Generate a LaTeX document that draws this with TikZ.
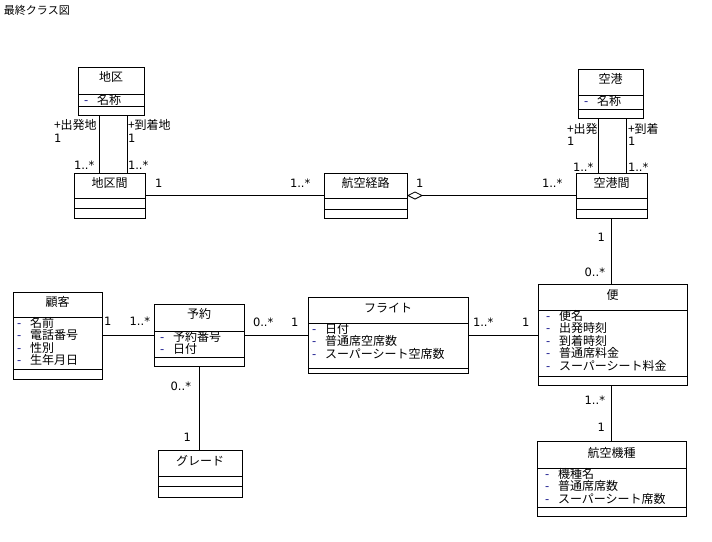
\documentclass[tikz,border=0pt]{standalone}
\usepackage{fontspec}
\setmainfont{Noto Sans CJK JP}
\newfontfamily\multfont{DejaVu Sans}
\usetikzlibrary{arrows.meta}
\definecolor{attrdash}{RGB}{0,0,128}
\newcommand{\attr}[1]{\makebox[13pt][l]{\textcolor{attrdash}{-}}#1}

\begin{document}
\begin{tikzpicture}[x=1pt,y=1pt,
        every node/.style={inner sep=0pt, outer sep=0pt},
        cls/.style={draw, line width=0.8pt, anchor=north west},
        ctitle/.style={font=\fontsize{12}{12}\selectfont},
        cattr/.style={anchor=north west, align=left, font=\fontsize{12}{12.6}\selectfont},
        role/.style={font=\fontsize{12}{12}\selectfont},
        mult/.style={font=\multfont\fontsize{11.5}{12}\selectfont},
        assoc/.style={line width=0.8pt}]
        \useasboundingbox (0,0) rectangle (712,-541);
        \node[anchor=north west, font=\fontsize{11}{13}\selectfont] (caption) at (4,-5) {最終クラス図};
        % class boxes
        \node[cls, minimum width=66pt, minimum height=48pt] (chiku) at (78,-67) {};
        \node[ctitle] (chiku-t) at ([yshift=-10pt]chiku.north) {地区};
        \draw ([yshift=-27pt]chiku.north west) -- ([yshift=-27pt]chiku.north east);
        \node[cattr] (chiku-a) at ([xshift=6pt,yshift=-27pt]chiku.north west) {\attr{名称}};
        \draw ([yshift=-39pt]chiku.north west) -- ([yshift=-39pt]chiku.north east);
        \node[cls, minimum width=71pt, minimum height=45pt] (chikukan) at (74,-173) {};
        \node[ctitle] (chikukan-t) at ([yshift=-10pt]chikukan.north) {地区間};
        \draw ([yshift=-25pt]chikukan.north west) -- ([yshift=-25pt]chikukan.north east);
        \draw ([yshift=-35pt]chikukan.north west) -- ([yshift=-35pt]chikukan.north east);
        \node[cls, minimum width=83pt, minimum height=45pt] (keiro) at (324,-173) {};
        \node[ctitle] (keiro-t) at ([yshift=-10pt]keiro.north) {航空経路};
        \draw ([yshift=-25pt]keiro.north west) -- ([yshift=-25pt]keiro.north east);
        \draw ([yshift=-36pt]keiro.north west) -- ([yshift=-36pt]keiro.north east);
        \node[cls, minimum width=65pt, minimum height=49pt] (kuko) at (578,-69) {};
        \node[ctitle] (kuko-t) at ([yshift=-10pt]kuko.north) {空港};
        \draw ([yshift=-26pt]kuko.north west) -- ([yshift=-26pt]kuko.north east);
        \node[cattr] (kuko-a) at ([xshift=6pt,yshift=-26pt]kuko.north west) {\attr{名称}};
        \draw ([yshift=-40pt]kuko.north west) -- ([yshift=-40pt]kuko.north east);
        \node[cls, minimum width=71pt, minimum height=45pt] (kukokan) at (576,-173) {};
        \node[ctitle] (kukokan-t) at ([yshift=-10pt]kukokan.north) {空港間};
        \draw ([yshift=-25pt]kukokan.north west) -- ([yshift=-25pt]kukokan.north east);
        \draw ([yshift=-36pt]kukokan.north west) -- ([yshift=-36pt]kukokan.north east);
        \node[cls, minimum width=149pt, minimum height=101pt] (bin) at (538,-284) {};
        \node[ctitle] (bin-t) at ([yshift=-11pt]bin.north) {便};
        \draw ([yshift=-26pt]bin.north west) -- ([yshift=-26pt]bin.north east);
        \node[cattr] (bin-a) at ([xshift=8pt,yshift=-26pt]bin.north west)
                {\attr{便名}\\\attr{出発時刻}\\\attr{到着時刻}\\\attr{普通席料金}\\\attr{スーパーシート料金}};
        \draw ([yshift=-92pt]bin.north west) -- ([yshift=-92pt]bin.north east);
        \node[cls, minimum width=149pt, minimum height=75pt] (kishu) at (537,-441) {};
        \node[ctitle] (kishu-t) at ([yshift=-12pt]kishu.north) {航空機種};
        \draw ([yshift=-27pt]kishu.north west) -- ([yshift=-27pt]kishu.north east);
        \node[cattr] (kishu-a) at ([xshift=8pt,yshift=-27pt]kishu.north west)
                {\attr{機種名}\\\attr{普通席席数}\\\attr{スーパーシート席数}};
        \draw ([yshift=-66pt]kishu.north west) -- ([yshift=-66pt]kishu.north east);
        \node[cls, minimum width=89pt, minimum height=87pt] (kokyaku) at (13,-292) {};
        \node[ctitle] (kokyaku-t) at ([yshift=-10pt]kokyaku.north) {顧客};
        \draw ([yshift=-25pt]kokyaku.north west) -- ([yshift=-25pt]kokyaku.north east);
        \node[cattr] (kokyaku-a) at ([xshift=4pt,yshift=-25pt]kokyaku.north west)
                {\attr{名前}\\\attr{電話番号}\\\attr{性別}\\\attr{生年月日}};
        \draw ([yshift=-77pt]kokyaku.north west) -- ([yshift=-77pt]kokyaku.north east);
        \node[cls, minimum width=90pt, minimum height=62pt] (yoyaku) at (154,-304) {};
        \node[ctitle] (yoyaku-t) at ([yshift=-10pt]yoyaku.north) {予約};
        \draw ([yshift=-27pt]yoyaku.north west) -- ([yshift=-27pt]yoyaku.north east);
        \node[cattr] (yoyaku-a) at ([xshift=6pt,yshift=-27pt]yoyaku.north west)
                {\attr{予約番号}\\\attr{日付}};
        \draw ([yshift=-53pt]yoyaku.north west) -- ([yshift=-53pt]yoyaku.north east);
        \node[cls, minimum width=160pt, minimum height=76pt] (flight) at (308,-297) {};
        \node[ctitle] (flight-t) at ([yshift=-11pt]flight.north) {フライト};
        \draw ([yshift=-26pt]flight.north west) -- ([yshift=-26pt]flight.north east);
        \node[cattr] (flight-a) at ([xshift=4pt,yshift=-26pt]flight.north west)
                {\attr{日付}\\\attr{普通席空席数}\\\attr{スーパーシート空席数}};
        \draw ([yshift=-71pt]flight.north west) -- ([yshift=-71pt]flight.north east);
        \node[cls, minimum width=84pt, minimum height=47pt] (grade) at (158,-450) {};
        \node[ctitle] (grade-t) at ([yshift=-11pt]grade.north) {グレード};
        \draw ([yshift=-26pt]grade.north west) -- ([yshift=-26pt]grade.north east);
        \draw ([yshift=-36pt]grade.north west) -- ([yshift=-36pt]grade.north east);
        % associations
        \draw[assoc] ([xshift=-12pt]chiku.south) -- ([xshift=-12pt]chiku.south |- chikukan.north);
        \draw[assoc] ([xshift=16pt]chiku.south) -- ([xshift=16pt]chiku.south |- chikukan.north);
        \draw[assoc] ([xshift=-12pt]kuko.south) -- ([xshift=-12pt]kuko.south |- kukokan.north);
        \draw[assoc] ([xshift=16pt]kuko.south) -- ([xshift=16pt]kuko.south |- kukokan.north);
        \draw[assoc] (chikukan.east) -- (keiro.west);
        \draw[assoc, {Diamond[open, length=16pt, width=8pt]}-] (keiro.east) -- (kukokan.west);
        \draw[assoc] (kukokan.south) -- (kukokan.south |- bin.north);
        \draw[assoc] (bin.south -| kishu.north) -- (kishu.north);
        \draw[assoc] (kokyaku.east) -- (kokyaku.east -| yoyaku.west);
        \draw[assoc] (yoyaku.east) -- (yoyaku.east -| flight.west);
        \draw[assoc] (flight.east) -- (flight.east -| bin.west);
        \draw[assoc] (yoyaku.south) -- (yoyaku.south |- grade.north);
        % role names and multiplicities
        \node[role, anchor=west] (chiku-r1) at (54,-125) {+出発地};
        \node[mult, anchor=west] (chiku-m1) at (54,-138) {1};
        \node[role, anchor=west] (chiku-r2) at (128,-125) {+到着地};
        \node[mult, anchor=west] (chiku-m2) at (128,-138) {1};
        \node[mult, anchor=west] (chikukan-m1) at (74,-165) {1..*};
        \node[mult, anchor=west] (chikukan-m2) at (128,-165) {1..*};
        \node[mult, anchor=west] (chikukan-m3) at (155,-183) {1};
        \node[mult, anchor=west] (keiro-m1) at (290,-183) {1..*};
        \node[mult, anchor=west] (keiro-m2) at (416,-183) {1};
        \node[mult, anchor=west] (kukokan-m1) at (542,-183) {1..*};
        \node[role, anchor=west] (kuko-r1) at (567,-129) {+出発};
        \node[mult, anchor=west] (kuko-m1) at (567,-141) {1};
        \node[role, anchor=west] (kuko-r2) at (628,-129) {+到着};
        \node[mult, anchor=west] (kuko-m2) at (628,-141) {1};
        \node[mult, anchor=west] (kukokan-m2) at (573,-167) {1..*};
        \node[mult, anchor=west] (kukokan-m3) at (628,-167) {1..*};
        \node[mult, anchor=east] (kukokan-m4) at (605,-237) {1};
        \node[mult, anchor=east] (bin-m1) at (605,-272) {0..*};
        \node[mult, anchor=east] (bin-m2) at (605,-400) {1..*};
        \node[mult, anchor=east] (kishu-m1) at (605,-427) {1};
        \node[mult, anchor=west] (kokyaku-m1) at (104,-321) {1};
        \node[mult, anchor=east] (yoyaku-m1) at (150,-321) {1..*};
        \node[mult, anchor=west] (yoyaku-m2) at (253,-322) {0..*};
        \node[mult, anchor=west] (flight-m1) at (291,-322) {1};
        \node[mult, anchor=west] (flight-m2) at (473,-322) {1..*};
        \node[mult, anchor=west] (bin-m3) at (522,-322) {1};
        \node[mult, anchor=east] (yoyaku-m3) at (191,-386) {0..*};
        \node[mult, anchor=east] (grade-m1) at (191,-437) {1};
\end{tikzpicture}
\end{document}
